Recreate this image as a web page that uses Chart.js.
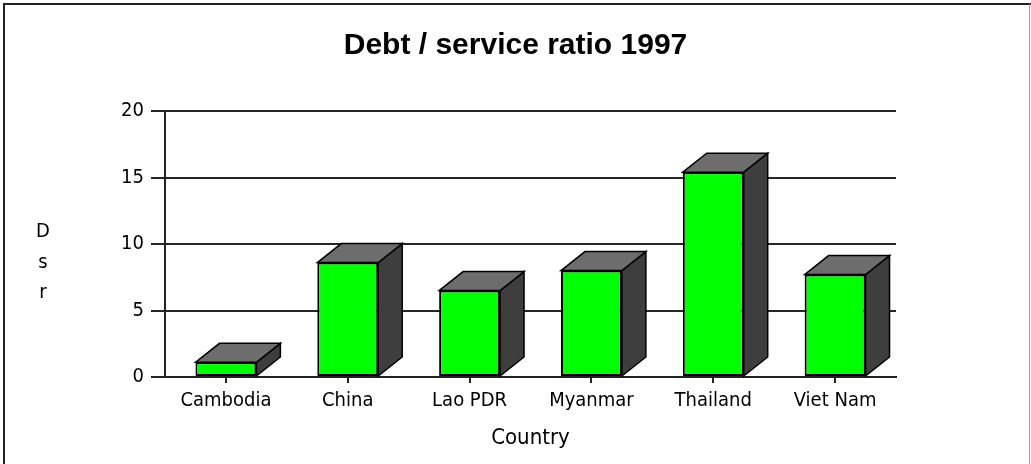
<!DOCTYPE html>
<html>
<head>
<meta charset="utf-8">
<title>Debt / service ratio 1997</title>
<script src="https://cdn.jsdelivr.net/npm/chart.js@4/dist/chart.umd.min.js"></script>
<style>
  html, body { margin: 0; padding: 0; background: #fff; }
  #wrap { position: relative; width: 1031px; height: 464px; }
</style>
</head>
<body>
<div id="wrap"><canvas id="chart" width="1031" height="464"></canvas></div>
<script>
// Debt service ratio by country, 1997
const countries = ['Cambodia', 'China', 'Lao PDR', 'Myanmar', 'Thailand', 'Viet Nam'];
const debtServiceRatio = [1.1, 8.6, 6.5, 8.0, 15.4, 7.7];
const yTicks = [0, 5, 10, 15, 20];
const yAxisLetters = ['D', 's', 'r'];

const LABEL_FONT = "'DejaVu Sans Condensed', 'DejaVu Sans', sans-serif";
const DEPTH_X = 24;
const DEPTH_Y = 19;

// White page with a framed border on top / left / right
const framePlugin = {
  id: 'frame',
  beforeDraw(chart) {
    const ctx = chart.ctx;
    ctx.save();
    ctx.fillStyle = '#ffffff';
    ctx.fillRect(0, 0, chart.width, chart.height);
    ctx.strokeStyle = '#222';
    ctx.lineWidth = 2;
    ctx.beginPath();
    ctx.moveTo(4, chart.height);
    ctx.lineTo(4, 4);
    ctx.lineTo(chart.width, 4);
    ctx.stroke();
    ctx.strokeStyle = '#9a9a9a';
    ctx.lineWidth = 1;
    ctx.beginPath();
    ctx.moveTo(chart.width - 1.5, 4);
    ctx.lineTo(chart.width - 1.5, chart.height);
    ctx.stroke();
    ctx.restore();
  }
};

// Top and side faces that give each bar its block look
const blockPlugin = {
  id: 'block3d',
  afterDatasetsDraw(chart) {
    const ctx = chart.ctx;
    const meta = chart.getDatasetMeta(0);
    ctx.save();
    ctx.lineWidth = 1.5;
    ctx.strokeStyle = '#000';
    ctx.lineJoin = 'miter';
    meta.data.forEach((bar) => {
      const p = bar.getProps(['x', 'y', 'base', 'width'], true);
      const l = p.x - p.width / 2;
      const r = p.x + p.width / 2;
      const top = Math.min(p.y, p.base);
      const bottom = Math.max(p.y, p.base);
      // side face
      ctx.fillStyle = '#3e3e3e';
      ctx.beginPath();
      ctx.moveTo(r, top);
      ctx.lineTo(r + DEPTH_X, top - DEPTH_Y);
      ctx.lineTo(r + DEPTH_X, bottom - DEPTH_Y);
      ctx.lineTo(r, bottom);
      ctx.closePath();
      ctx.fill();
      ctx.stroke();
      // top face
      ctx.fillStyle = '#6d6d6d';
      ctx.beginPath();
      ctx.moveTo(l, top);
      ctx.lineTo(l + DEPTH_X, top - DEPTH_Y);
      ctx.lineTo(r + DEPTH_X, top - DEPTH_Y);
      ctx.lineTo(r, top);
      ctx.closePath();
      ctx.fill();
      ctx.stroke();
    });
    ctx.restore();
  },
  afterDraw(chart) {
    // vertical y-axis caption, one letter per line
    const ctx = chart.ctx;
    ctx.save();
    ctx.fillStyle = '#000';
    ctx.font = '20px ' + LABEL_FONT;
    ctx.textAlign = 'center';
    ctx.textBaseline = 'alphabetic';
    yAxisLetters.forEach((ch, i) => {
      ctx.fillText(ch, 43, 237 + i * 30.5);
    });
    ctx.restore();
  }
};

new Chart(document.getElementById('chart'), {
  type: 'bar',
  data: {
    labels: countries,
    datasets: [{
      label: 'Dsr',
      data: debtServiceRatio,
      backgroundColor: '#00ff00',
      borderColor: '#000',
      borderWidth: 2,
      borderSkipped: false,
      barPercentage: 0.5,
      categoryPercentage: 1.0
    }]
  },
  options: {
    responsive: false,
    animation: false,
    layout: { padding: { left: 0, right: 0, top: 0, bottom: 13 } },
    plugins: {
      legend: { display: false },
      tooltip: { enabled: false },
      title: {
        display: true,
        text: 'Debt / service ratio 1997',
        color: '#000',
        font: { family: "'Liberation Sans', Arial, sans-serif", size: 30, weight: 'bold', lineHeight: 1.2 },
        padding: { top: 28, bottom: 47 }
      }
    },
    scales: {
      x: {
        grid: {
          display: true,
          drawOnChartArea: false,
          drawTicks: true,
          tickLength: 6,
          offset: false,
          color: '#222',
          lineWidth: 2
        },
        border: { display: true, color: '#222', width: 2 },
        ticks: {
          color: '#000',
          padding: 6,
          maxRotation: 0,
          font: { family: LABEL_FONT, size: 20, lineHeight: 1.2 }
        },
        title: {
          display: true,
          text: 'Country',
          color: '#000',
          font: { family: LABEL_FONT, size: 22, lineHeight: 1.2 },
          padding: { top: 5.6, bottom: 0 }
        }
      },
      y: {
        min: 0,
        max: 20,
        afterFit(scale) { scale.width = 165; },
        afterBuildTicks(scale) { scale.ticks = yTicks.map(v => ({ value: v })); },
        grid: {
          color: '#262626',
          lineWidth: 2,
          drawTicks: true,
          tickLength: 14
        },
        border: { display: true, color: '#222', width: 2 },
        ticks: {
          color: '#000',
          padding: 7,
          font: { family: LABEL_FONT, size: 20, lineHeight: 1.2 }
        }
      },
      // empty right-hand margin beside the plot
      margin: {
        position: 'right',
        display: true,
        afterFit(scale) { scale.width = 135; },
        grid: { display: false },
        border: { display: false },
        ticks: { display: false }
      }
    }
  },
  plugins: [framePlugin, blockPlugin]
});
</script>
</body>
</html>
